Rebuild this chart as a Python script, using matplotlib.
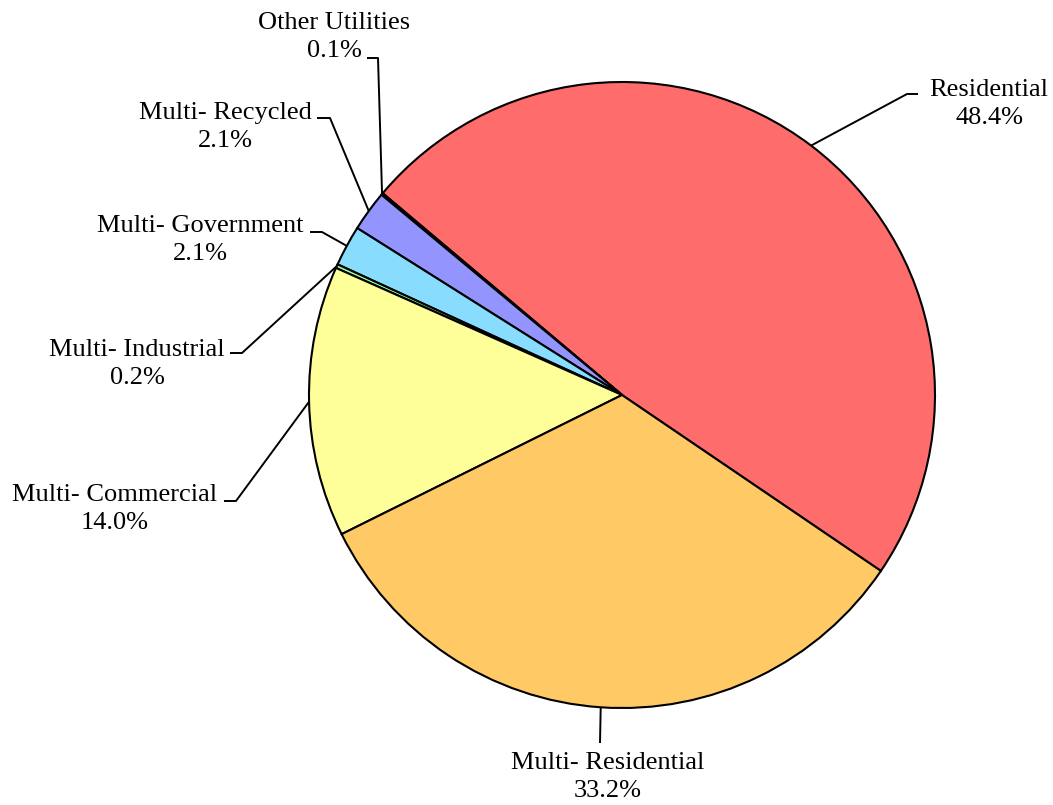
import numpy as np
import matplotlib
matplotlib.use("Agg")
import matplotlib.pyplot as plt

plt.rcParams['font.family'] = ['Liberation Serif', 'DejaVu Serif']

labels = ["Residential", "Other Utilities", "Multi- Recycled", "Multi- Government",
          "Multi- Industrial", "Multi- Commercial", "Multi- Residential"]
shares = [48.4, 0.1, 2.1, 2.1, 0.2, 14.0, 33.2]
colors = ["#FF6C6C", "#FF99CC", "#9494FF", "#88DDFF", "#99FF99", "#FFFF99", "#FFCA66"]

# layout in pixels of the 1053x805 picture: text centre, line end at text, elbow
R_PX = 313.0
CX, CY = 622.0, 395.0
layout = {
    "Residential":        ((989, 104), (918, 94), (907, 94)),
    "Other Utilities":    ((334, 37), (367, 58), (378, 58)),
    "Multi- Recycled":    ((225, 127), (317, 118), (330, 118)),
    "Multi- Government":  ((200, 240), (310, 232), (322, 232)),
    "Multi- Industrial":  ((137, 364), (230, 353), (242, 353)),
    "Multi- Commercial":  ((115, 509), (224, 501), (236, 501)),
    "Multi- Residential": ((608, 777), (600, 743), (600, 743)),
}


def px(x, y):
    return (x - CX) / R_PX, (CY - y) / R_PX


fig = plt.figure(figsize=(10.53, 8.05), dpi=100)
ax = fig.add_axes([0, 0, 1, 1])

wedges, _ = ax.pie(shares, colors=colors, startangle=-34.2, counterclock=True,
                   radius=1.0, wedgeprops=dict(edgecolor='black', linewidth=1.5))

# pie() resets the limits, so set them afterwards
ax.set_xlim(-CX / R_PX, (1053 - CX) / R_PX)
ax.set_ylim((CY - 805) / R_PX, CY / R_PX)
ax.set_aspect('equal')
ax.axis('off')

for w, lab, val in zip(wedges, labels, shares):
    mid = np.deg2rad((w.theta1 + w.theta2) / 2)
    edge = (np.cos(mid), np.sin(mid))
    (tx, ty), (ax1, ay1), (ex, ey) = layout[lab]
    p1 = px(ax1, ay1)
    p2 = px(ex, ey)
    ax.plot([p1[0], p2[0], edge[0]], [p1[1], p2[1], edge[1]], color='black', lw=1.4,
            solid_capstyle='butt')
    t = px(tx, ty)
    ax.text(t[0], t[1], f"{lab}\n{val:.1f}%", ha='center', va='center',
            fontsize=19, linespacing=1.38, color='black')

fig.savefig("out.png", dpi=100)
